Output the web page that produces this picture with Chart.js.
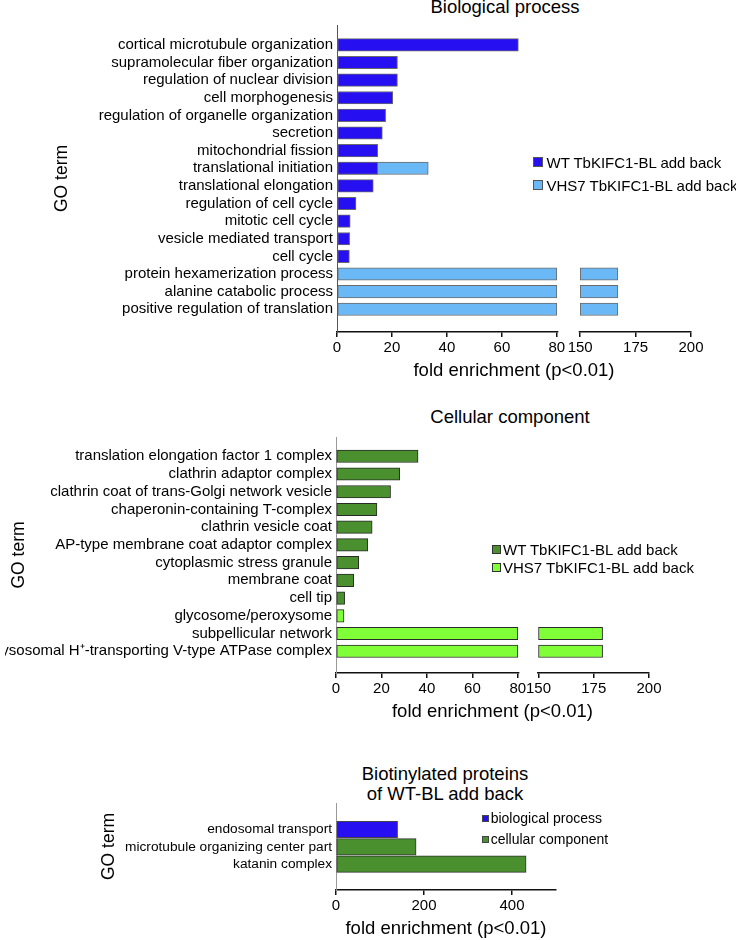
<!DOCTYPE html>
<html>
<head>
<meta charset="utf-8">
<script src="https://cdn.jsdelivr.net/npm/chart.js@4.4.1/dist/chart.umd.min.js"></script>
<style>
    body { margin: 0; background: #fff; font-family: 'Liberation Sans', Arial, sans-serif; color: #000; }
    #page { position: relative; width: 736px; height: 940px; overflow: hidden; }
    #page canvas { position: absolute; left: 0; }
    .title { position: absolute; font-size: 18.5px; line-height: 20px; white-space: nowrap; transform: translateX(-50%); text-align: center; }
    .legend { position: absolute; height: 20px; display: flex; align-items: center; white-space: nowrap; }
    .swatch { box-sizing: border-box; border: 1px solid; }
</style>
</head>
<body>
<div id="page">
    <div class="title" style="left:505px; top:-3px;">Biological process</div>
    <div class="title" style="left:510px; top:407px;">Cellular component</div>
    <div class="title" style="left:445px; top:764px;">Biotinylated proteins<br>of WT-BL add back</div>

    <canvas id="bpChart" width="736" height="386" style="top:0px"></canvas>
    <canvas id="ccChart" width="736" height="327" style="top:400px"></canvas>
    <canvas id="bioChart" width="736" height="184" style="top:760px"></canvas>
</div>

<script>
//============================================= Data =============================================//
const bpTerms = [
    'cortical microtubule organization', 'supramolecular fiber organization', 'regulation of nuclear division',
    'cell morphogenesis', 'regulation of organelle organization', 'secretion', 'mitochondrial fission',
    'translational initiation', 'translational elongation', 'regulation of cell cycle', 'mitotic cell cycle',
    'vesicle mediated transport', 'cell cycle', 'protein hexamerization process', 'alanine catabolic process',
    'positive regulation of translation'
];
const bpWT = [66, 22, 22, 20.3, 17.7, 16.5, 14.8, 14.8, 13.2, 6.9, 4.8, 4.6, 4.5, null, null, null];
const bpVHS7 = [null, null, null, null, null, null, null, 33.2, null, null, null, null, null, 167, 167, 167];
const bpTicks = [0, 20, 40, 60, 80, 150, 175, 200];

const ccTerms = [
    'translation elongation factor 1 complex', 'clathrin adaptor complex', 'clathrin coat of trans-Golgi network vesicle',
    'chaperonin-containing T-complex', 'clathrin vesicle coat', 'AP-type membrane coat adaptor complex',
    'cytoplasmic stress granule', 'membrane coat', 'cell tip', 'glycosome/peroxysome', 'subpellicular network',
    'lysosomal H\u207A-transporting V-type ATPase complex'
];
const ccWT = [36.1, 28, 24, 18, 15.9, 14, 10, 7.8, 3.8, null, null, null];
const ccVHS7 = [null, null, null, null, null, null, null, null, null, 3.5, 179, 179];
const ccTicks = [0, 20, 40, 60, 80, 150, 175, 200];

const bioTerms = ['endosomal transport', 'microtubule organizing center part', 'katanin complex'];
const bioProcess = [140, null, null];
const bioComponent = [null, 182, 432];
const bioTicks = [0, 200, 400];

const seriesNames = ['WT TbKIFC1-BL add back', 'VHS7 TbKIFC1-BL add back'];
const bioNames = ['biological process', 'cellular component'];

//============================================= Broken axis =============================================//
class BrokenScale extends Chart.LinearScale {
    getPixelForValue(value) {
        if (value === null || value === undefined) return NaN;
        const o = this.options;
        let d;
        if (value <= o.breakFrom) {
            d = (value - this.min) / (o.breakFrom - this.min) * o.gapStart;
        } else if (value >= o.breakTo) {
            d = o.gapEnd + (value - o.breakTo) / (this.max - o.breakTo) * (1 - o.gapEnd);
        } else {
            d = o.gapStart + (value - o.breakFrom) / (o.breakTo - o.breakFrom) * (o.gapEnd - o.gapStart);
        }
        return this.getPixelForDecimal(d);
    }

    getValueForPixel(pixel) {
        const o = this.options;
        const d = this.getDecimalForPixel(pixel);
        if (d <= o.gapStart) return this.min + d / o.gapStart * (o.breakFrom - this.min);
        if (d >= o.gapEnd) return o.breakTo + (d - o.gapEnd) / (1 - o.gapEnd) * (this.max - o.breakTo);
        return o.breakFrom + (d - o.gapStart) / (o.gapEnd - o.gapStart) * (o.breakTo - o.breakFrom);
    }
}
BrokenScale.id = 'broken';
BrokenScale.defaults = {};
Chart.register(BrokenScale);

// white out the axis line between the two segments
const axisBreak = {
    id: 'axisBreak',
    afterDraw(chart) {
        const s = chart.scales.x;
        const x1 = s.getPixelForValue(s.options.breakFrom) + 1.5;
        const x2 = s.getPixelForValue(s.options.breakTo) - 1.5;
        const ctx = chart.ctx;
        ctx.save();
        ctx.fillStyle = '#fff';
        ctx.fillRect(x1, s.top - 2.5, x2 - x1, 5);
        ctx.restore();
    }
};

//============================================= Helpers =============================================//
Chart.defaults.font.family = "'Liberation Sans', Arial, sans-serif";
Chart.defaults.color = '#000';

const lowPart = (vals, cut) => vals
    .map((v, i) => ({x: v === null ? null : Math.min(v, cut), y: i}))
    .filter(p => p.x !== null);

const highPart = (vals, from) => vals
    .map((v, i) => ({x: v !== null && v > from ? [from, v] : null, y: i}))
    .filter(p => p.x !== null);

function barSet(label, data, color, border, thickness, order) {
    return {
        label: label,
        data: data,
        backgroundColor: color,
        borderColor: border,
        borderWidth: 1,
        borderSkipped: false,
        barThickness: thickness,
        grouped: false,
        order: order
    };
}

function makeChart(id, datasets, terms, cfg) {
    const xScale = Object.assign({
        min: 0,
        afterBuildTicks: s => { s.ticks = cfg.ticks.map(v => ({value: v})); },
        afterFit: s => { s.height = 54; },
        grid: {display: true, drawOnChartArea: false, drawTicks: true, tickLength: 5, color: '#111', lineWidth: 1.5},
        border: {display: true, color: '#111', width: 1.5},
        ticks: {autoSkip: false, padding: 2, font: {size: 15}, callback: v => String(v), maxRotation: 0},
        title: {display: true, text: 'fold enrichment (p<0.01)', font: {size: 18.5}, padding: {top: 0, bottom: 4}}
    }, cfg.x);

    return new Chart(document.getElementById(id), {
        type: 'bar',
        data: {datasets: datasets},
        options: {
            indexAxis: 'y',
            responsive: false,
            animation: false,
            events: [],
            layout: {padding: cfg.padding},
            plugins: {
                legend: {display: false},
                tooltip: {enabled: false}
            },
            scales: {
                x: xScale,
                y: {
                    type: 'linear',
                    reverse: true,
                    min: cfg.yMin,
                    max: cfg.yMax,
                    afterBuildTicks: s => { s.ticks = terms.map((t, i) => ({value: i})); },
                    afterFit: s => { s.width = cfg.axisLeft - cfg.padding.left; },
                    grid: {display: false, drawTicks: false},
                    border: {display: true, color: cfg.yBorder, width: 1},
                    ticks: {autoSkip: false, padding: 4, font: {size: cfg.labelSize}, callback: v => terms[v]},
                    title: {display: true, text: 'GO term', font: {size: 17.5}, padding: {top: 4, bottom: 0}}
                }
            }
        },
        plugins: cfg.plugins || []
    });
}

//============================================= Biological process =============================================//
const blue = '#2610f2', lightBlue = '#6bb8f6';
makeChart('bpChart', [
    barSet(seriesNames[0], lowPart(bpWT, 80), blue, '#6a6a6a', 12.5, 0),
    barSet(seriesNames[1], lowPart(bpVHS7, 80), lightBlue, '#6a6a6a', 12.5, 1),
    barSet(seriesNames[1], highPart(bpVHS7, 150), lightBlue, '#6a6a6a', 12.5, 1)
], bpTerms, {
    ticks: bpTicks,
    x: {type: 'broken', max: 200, breakFrom: 80, breakTo: 150, gapStart: 0.621, gapEnd: 0.687},
    padding: {top: 25, left: 47.5, right: 45, bottom: 0},
    axisLeft: 337,
    yMin: -0.585, yMax: 15.745,
    yBorder: '#555',
    labelSize: 15,
    plugins: [axisBreak]
});

//============================================= Cellular component =============================================//
const green = '#4a902f', lightGreen = '#80ff38';
makeChart('ccChart', [
    barSet(seriesNames[0], lowPart(ccWT, 80), green, '#2a2a2a', 12.5, 0),
    barSet(seriesNames[1], lowPart(ccVHS7, 80), lightGreen, '#2a2a2a', 12.5, 1),
    barSet(seriesNames[1], highPart(ccVHS7, 150), lightGreen, '#2a2a2a', 12.5, 1)
], ccTerms, {
    ticks: ccTicks,
    x: {type: 'broken', max: 200, breakFrom: 80, breakTo: 150, gapStart: 0.581, gapEnd: 0.647},
    padding: {top: 37, left: 5, right: 87, bottom: 0},
    axisLeft: 336,
    yMin: -0.533, yMax: 11.672,
    yBorder: '#999',
    labelSize: 15,
    plugins: [axisBreak]
});

//============================================= Biotinylated proteins =============================================//
makeChart('bioChart', [
    barSet(bioNames[0], lowPart(bioProcess, Infinity), blue, '#444', 16.5, 0),
    barSet(bioNames[1], lowPart(bioComponent, Infinity), green, '#333', 16.5, 1)
], bioTerms, {
    ticks: bioTicks,
    x: {type: 'linear', max: 500},
    padding: {top: 43, left: 94.5, right: 180, bottom: 0},
    axisLeft: 336,
    yMin: -0.692, yMax: 2.654,
    yBorder: '#999',
    labelSize: 13.7
});

//============================================= Legends =============================================//
const page = document.getElementById('page');

function addLegend(names, colors, border, left, centers, box, gap, fontSize) {
    names.forEach((name, i) => {
        const row = document.createElement('div');
        row.className = 'legend';
        row.style.left = left + 'px';
        row.style.top = (centers[i] - 10) + 'px';
        row.style.fontSize = fontSize + 'px';
        const sw = document.createElement('span');
        sw.className = 'swatch';
        sw.style.width = box + 'px';
        sw.style.height = box + 'px';
        sw.style.background = colors[i];
        sw.style.borderColor = border;
        sw.style.marginRight = gap + 'px';
        row.appendChild(sw);
        row.appendChild(document.createTextNode(name));
        page.appendChild(row);
    });
}

addLegend(seriesNames, [blue, lightBlue], '#555', 533, [162.3, 185], 10, 3.5, 15);
addLegend(seriesNames, [green, lightGreen], '#333', 492, [549, 567], 9, 2, 15);
addLegend(bioNames, [blue, green], '#444', 482, [818, 839], 7, 1.7, 14);
</script>
</body>
</html>
